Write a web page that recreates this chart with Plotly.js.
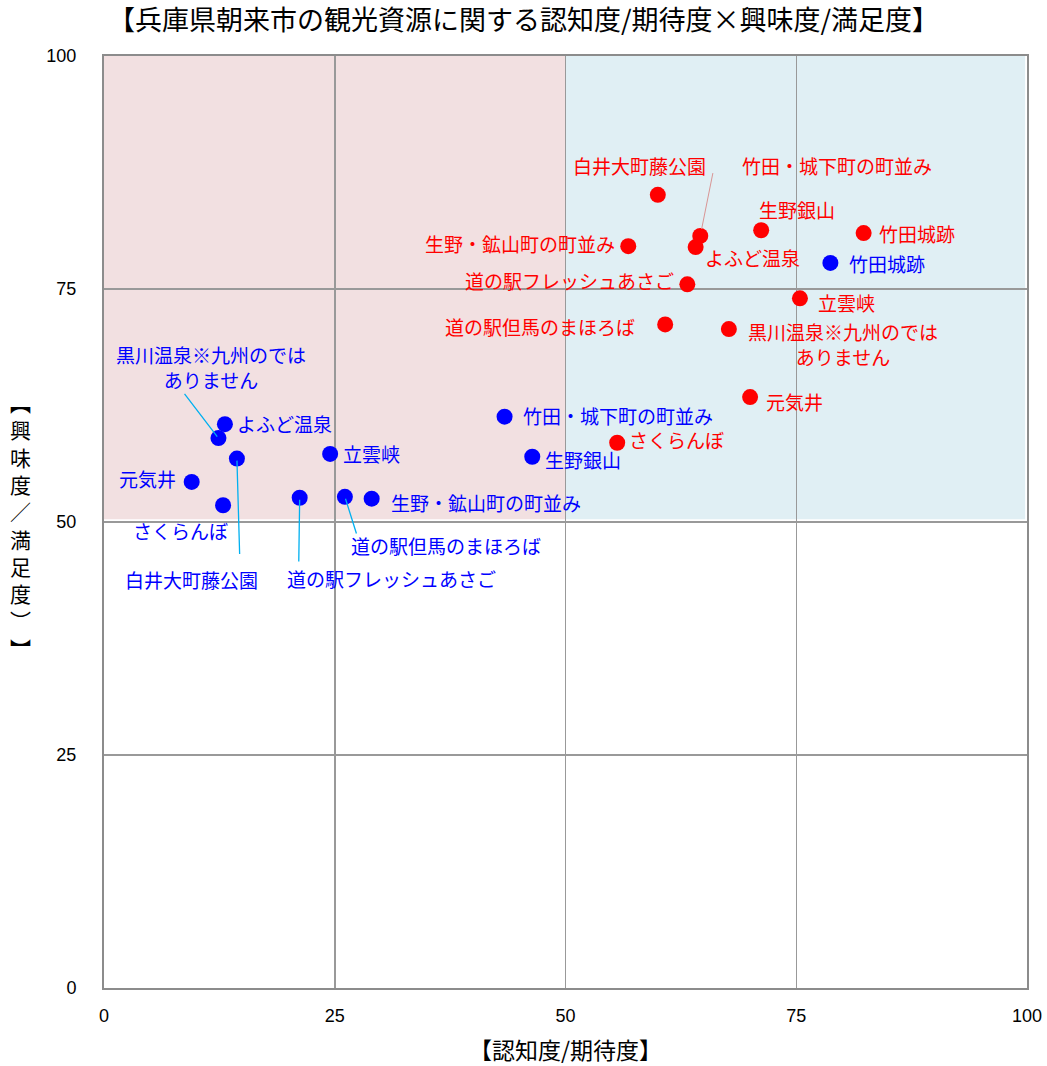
<!DOCTYPE html>
<html>
<head>
<meta charset="utf-8">
<script src="https://cdn.plot.ly/plotly-3.0.1.min.js"></script>
<style>html,body{margin:0;padding:0;background:#fff;}#chart{width:1047px;height:1066px;}</style>
</head>
<body>
<div id="chart"></div>
<script>
// Categories (tourism resources)
const names = ['竹田城跡','竹田・城下町の町並み','生野銀山','生野・鉱山町の町並み','道の駅但馬のまほろば','道の駅フレッシュあさご','立雲峡','よふど温泉','黒川温泉※九州のでは<br>ありません','白井大町藤公園','元気井','さくらんぼ'];

// Red series: 認知度/期待度 (x) and 興味度/満足度 (y)
const redX = [82.3, 64.6, 71.2, 56.8, 60.8, 63.2, 75.4, 64.1, 67.7, 60.0, 70.0, 55.6];
const redY = [81.0, 80.7, 81.3, 79.6, 71.2, 75.5, 74.0, 79.5, 70.7, 85.1, 63.4, 58.5];

// Blue series
const blueX = [78.7, 43.4, 46.4, 29.0, 26.1, 21.2, 24.5, 13.1, 12.4, 14.4, 9.5, 12.9];
const blueY = [77.8, 61.3, 57.0, 52.5, 52.7, 52.6, 57.3, 60.5, 59.0, 56.8, 54.3, 51.8];

// Label placements (data units) for each series
const redLabX = [88.1, 79.4, 75.1, 45.1, 47.2, 50.4, 80.4, 70.3, 80.1, 58.0, 74.8, 62.0];
const redLabY = [81.0, 88.2, 83.5, 79.9, 71.0, 75.9, 73.6, 78.4, 69.1, 88.2, 62.9, 58.8];
const blueLabX = [84.8, 55.7, 51.9, 41.4, 37.1, 31.2, 29.0, 19.6, 11.6, 9.5, 4.7, 8.3];
const blueLabY = [77.7, 61.4, 56.7, 52.1, 47.5, 43.9, 57.3, 60.6, 66.6, 43.8, 54.7, 49.1];

// Leader line ends near labels (index into names)
const redLeaders = [{i:1, x:66.0, y:87.6}];
const blueLeaders = [{i:8, x:8.6, y:63.9},{i:9, x:14.7, y:46.4},{i:5, x:21.1, y:45.6},{i:4, x:27.4, y:48.6}];

const ticks = [0,25,50,75,100];

const RED = '#FF0000', BLUE = '#0000FF';
const labelFont = 'Noto Sans CJK JP, sans-serif';

const traces = [
  {x: redX, y: redY, type:'scatter', mode:'markers', marker:{color:RED, size:16}, hoverinfo:'skip', showlegend:false},
  {x: blueX, y: blueY, type:'scatter', mode:'markers', marker:{color:BLUE, size:16}, hoverinfo:'skip', showlegend:false}
];

const annotations = [];
names.forEach((n,i)=>{
  annotations.push({x:redLabX[i], y:redLabY[i], xref:'x', yref:'y', text:n, showarrow:false,
    font:{family:labelFont, size:19, color:RED}, xanchor:'center', yanchor:'middle'});
  annotations.push({x:blueLabX[i], y:blueLabY[i], xref:'x', yref:'y', text:n, showarrow:false,
    font:{family:labelFont, size:19, color:BLUE}, xanchor:'center', yanchor:'middle'});
});
redLeaders.forEach(l=>{
  annotations.push({x:redX[l.i], y:redY[l.i], ax:l.x, ay:l.y, xref:'x', yref:'y', axref:'x', ayref:'y',
    text:'', showarrow:true, arrowhead:0, arrowwidth:1, arrowcolor:'#D99594', standoff:7});
});
blueLeaders.forEach(l=>{
  annotations.push({x:blueX[l.i], y:blueY[l.i], ax:l.x, ay:l.y, xref:'x', yref:'y', axref:'x', ayref:'y',
    text:'', showarrow:true, arrowhead:0, arrowwidth:1.3, arrowcolor:'#00B0F0', standoff:2});
});
// vertical y-axis title
annotations.push({xref:'paper', yref:'paper', x:-0.09, y:0.497, xanchor:'center', yanchor:'middle',
  text:['︻','興','味','度','／','満','足','度','︶','︼'].join('<br>'), showarrow:false,
  font:{family:labelFont, size:21, color:'#000'}});

const tickFont = {family:'Liberation Sans, Arial, sans-serif', size:18, color:'#000'};

const layout = {
  width:1047, height:1066,
  margin:{l:104, r:20, t:56, b:78},
  paper_bgcolor:'#fff', plot_bgcolor:'#fff',
  title:{text:'【兵庫県朝来市の観光資源に関する認知度/期待度×興味度/満足度】', x:0.5, xanchor:'center', y:0.99, yanchor:'top',
    font:{family:labelFont, size:27, color:'#000'}},
  xaxis:{range:[0,100], tickvals:ticks, ticktext:ticks.map(String), showgrid:true, gridcolor:'#999999', gridwidth:1.5,
    zeroline:false, showline:true, linecolor:'#8C8C8C', linewidth:2, mirror:true, ticks:'', ticklabelstandoff:10,
    tickfont:tickFont,
    title:{text:'【認知度/期待度】', font:{family:labelFont, size:23, color:'#000'}, standoff:18}},
  yaxis:{range:[0,100], tickvals:ticks, ticktext:ticks.map(String), showgrid:true, gridcolor:'#999999', gridwidth:1.5,
    zeroline:false, showline:true, linecolor:'#8C8C8C', linewidth:2, mirror:true, ticks:'', ticklabelstandoff:22,
    tickfont:tickFont},
  shapes:[
    {type:'rect', xref:'x', yref:'y', x0:0, x1:50, y0:50.3, y1:100, fillcolor:'#F2E0E1', line:{width:0}, layer:'below'},
    {type:'rect', xref:'x', yref:'y', x0:50, x1:99.8, y0:50.3, y1:100, fillcolor:'#E0EFF4', line:{width:0}, layer:'below'}
  ],
  annotations:annotations
};

Plotly.newPlot('chart', traces, layout, {staticPlot:true});
</script>
</body>
</html>
